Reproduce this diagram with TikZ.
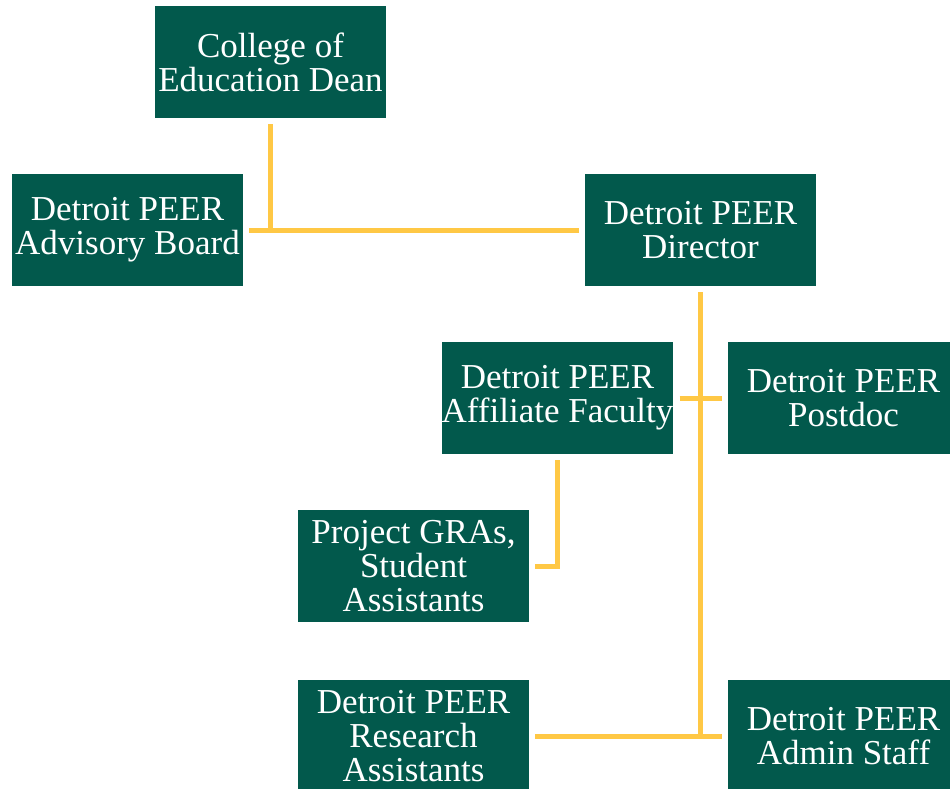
\documentclass[tikz,border=0pt]{standalone}
\usepackage{fontspec}
\setmainfont{Liberation Serif}
\usetikzlibrary{calc}

\definecolor{peergreen}{RGB}{2,89,76}
\definecolor{peergold}{RGB}{255,200,69}

\tikzset{
  unit/.style={fill=peergreen, text=white, minimum width=231pt, minimum height=112pt,
    align=center, inner sep=0pt, font=\fontsize{35}{34}\selectfont},
  link/.style={draw=peergold, line width=5pt}
}

\begin{document}
\begin{tikzpicture}[x=1pt,y=-1pt]

            \clip (0,0) rectangle (950,789);
            \useasboundingbox (0,0) rectangle (950,789);

            \node[unit] (dean)  at (270.5,62)  {College of\\Education Dean};
            \node[unit] (board) at (127.5,230) {Detroit PEER\\Advisory Board};
            \node[unit] (dir)   at (700.5,230) {Detroit PEER\\Director};
            \node[unit] (aff)   at (557.5,398) {Detroit PEER\\Affiliate Faculty};
            \node[unit] (post)  at (843.5,398) {Detroit PEER\\Postdoc};
            \node[unit] (gra)   at (413.5,566) {Project GRAs,\\Student\\Assistants};
            \node[unit] (res)   at (413.5,736) {Detroit PEER\\Research\\Assistants};
            \node[unit] (admin) at (843.5,736) {Detroit PEER\\Admin Staff};

            \draw[link] ([yshift=-6pt]dean.south) -- (dean.south |- board.east);
            \draw[link] ([xshift=6pt]board.east) -- ([xshift=-6pt]dir.west);

            \draw[link] ([yshift=-6pt]dir.south) -- (dir.south |- admin.west);
            \draw[link] ([xshift=6pt]aff.east) -- ([xshift=-6pt]post.west);
            \draw[link] ([xshift=6pt]res.east) -- ([xshift=-6pt]admin.west);

            \draw[link] ([yshift=-6pt]aff.south) |- ([xshift=6pt]gra.east);

\end{tikzpicture}
\end{document}
